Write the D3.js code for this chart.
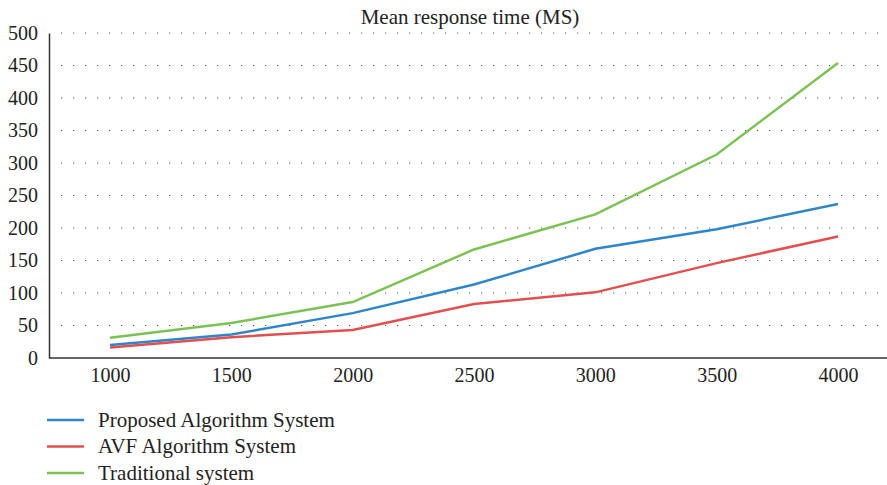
<!DOCTYPE html>
<html>
<head>
<meta charset="utf-8">
<script src="https://cdn.jsdelivr.net/npm/d3@7"></script>
<style>
  body { margin: 0; background: #fff; }
  svg { display: block; }
  svg text { font-family: "Liberation Serif", "DejaVu Serif", serif; fill: #222; }
</style>
</head>
<body>
<div id="chart"></div>
<script>
let categories = [1000, 1500, 2000, 2500, 3000, 3500, 4000];
let proposed = [20, 36, 69, 113, 168, 198, 237];
let avf = [16, 32, 43, 83, 101, 146, 187];
let traditional = [31, 54, 86, 167, 221, 313, 454];
let yTicks = [0, 50, 100, 150, 200, 250, 300, 350, 400, 450, 500];
let seriesNames = ["Proposed Algorithm System", "AVF Algorithm System", "Traditional system"];
let colors = ["#2e86c8", "#e05050", "#7cc153"];

let width = 887;
let height = 485;
let margin = { left: 49, top: 33, bottom: 127 };

let series = [proposed, avf, traditional].map((values, i) => ({
  name: seriesNames[i],
  color: colors[i],
  values: values.map((v, j) => ({ x: categories[j], y: v }))
}));

let svg = d3
  .select("#chart")
  .append("svg")
  .attr("width", width)
  .attr("height", height);

let x = d3
  .scalePoint()
  .domain(categories)
  .range([110, 838]);

let y = d3
  .scaleLinear()
  .domain([0, 500])
  .range([height - margin.bottom, margin.top]);

// dotted grid
svg
  .append("g")
  .selectAll("line")
  .data(yTicks.filter(d => d > 0))
  .join("line")
  .attr("x1", margin.left + 12)
  .attr("x2", width)
  .attr("y1", d => y(d))
  .attr("y2", d => y(d))
  .attr("stroke", "#555")
  .attr("stroke-width", 1.2)
  .attr("stroke-dasharray", "1.2,10.8");

// y axis
let yAxis = svg
  .append("g")
  .attr("transform", `translate(${margin.left},0)`)
  .call(d3.axisLeft(y).tickValues(yTicks).tickSize(0).tickPadding(11));
yAxis.attr("font-family", null).attr("font-size", 20);
yAxis.select(".domain").attr("stroke", "#333").attr("stroke-width", 1.5);

// x axis
let xAxis = svg
  .append("g")
  .attr("transform", `translate(0,${y(0)})`)
  .call(d3.axisBottom(x).tickSize(0).tickPadding(9.5));
xAxis.attr("font-family", null).attr("font-size", 20);
xAxis
  .select(".domain")
  .attr("d", `M${margin.left},0H${width}`)
  .attr("stroke", "#333")
  .attr("stroke-width", 1.5);

// title
svg
  .append("text")
  .attr("x", 470)
  .attr("y", 24)
  .attr("text-anchor", "middle")
  .attr("font-size", 21)
  .text("Mean response time (MS)");

let line = d3
  .line()
  .x(d => x(d.x))
  .y(d => y(d.y));

svg
  .append("g")
  .selectAll("path")
  .data(series)
  .join("path")
  .attr("d", d => line(d.values))
  .attr("fill", "none")
  .attr("stroke", d => d.color)
  .attr("stroke-width", 2.5);

// legend
let legend = svg
  .append("g")
  .selectAll("g")
  .data(series)
  .join("g")
  .attr("transform", (d, i) => `translate(47,${420 + i * 26.5})`);

legend
  .append("line")
  .attr("x1", 0)
  .attr("x2", 37)
  .attr("stroke", d => d.color)
  .attr("stroke-width", 2.5);

legend
  .append("text")
  .attr("x", 51)
  .attr("y", 6.5)
  .attr("font-size", 21)
  .text(d => d.name);
</script>
</body>
</html>
